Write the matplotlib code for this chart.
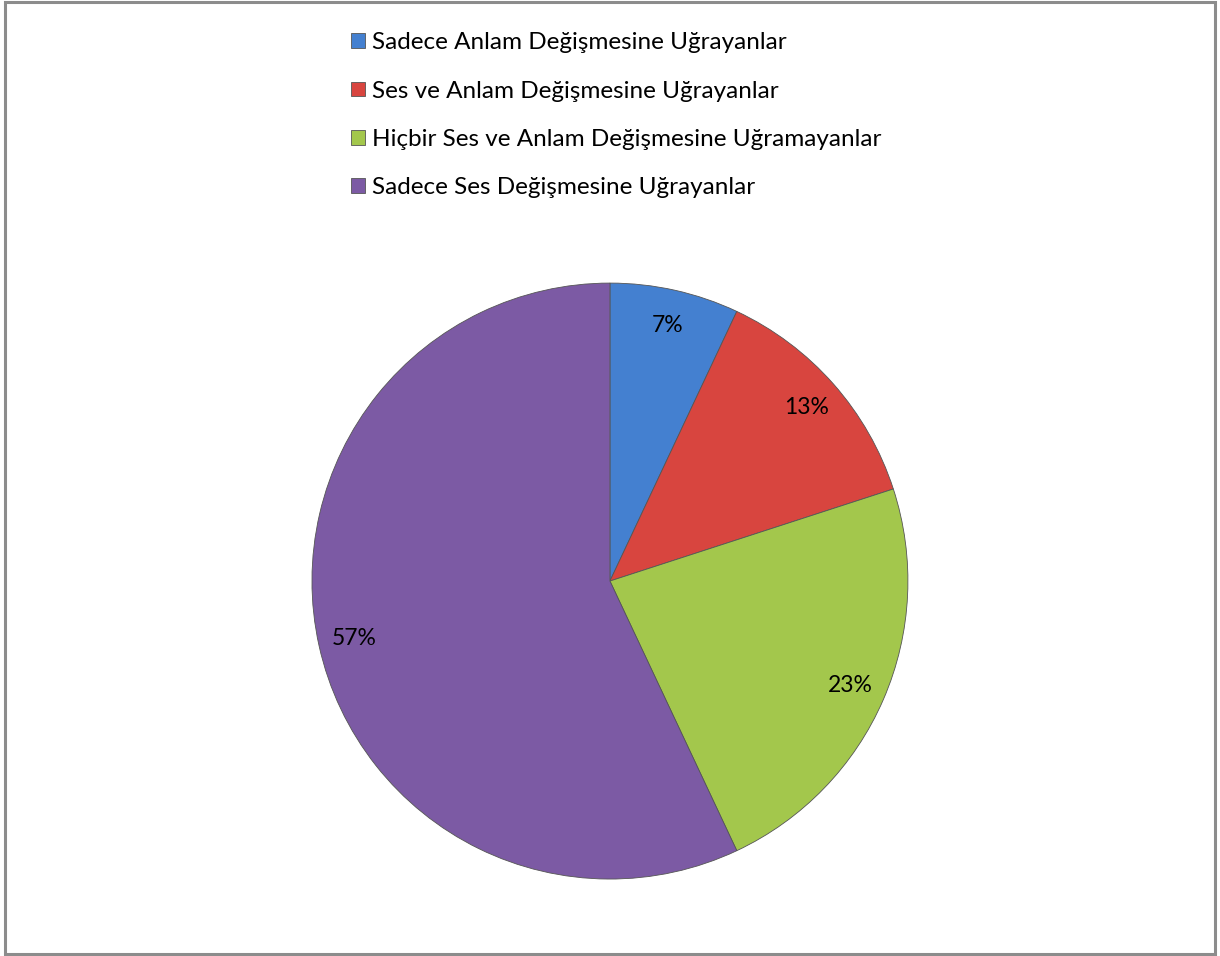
import matplotlib.pyplot as plt
from matplotlib.patches import Rectangle

plt.rcParams['font.family'] = ['Lato', 'DejaVu Sans']

categories = [
    "Sadece Anlam Değişmesine Uğrayanlar",
    "Ses ve Anlam Değişmesine Uğrayanlar",
    "Hiçbir Ses ve Anlam Değişmesine Uğramayanlar",
    "Sadece Ses Değişmesine Uğrayanlar",
]
values = [7, 13, 23, 57]
colors = ["#4480d0", "#d8453f", "#a3c74c", "#7c5aa4"]

fig = plt.figure(figsize=(12.2, 9.56), dpi=100)

# outer frame like the spreadsheet chart area
fig.patches.append(Rectangle((0.004, 0.002), 0.992, 0.996, transform=fig.transFigure,
                             fill=False, edgecolor="#8c8c8c", linewidth=2.2))

ax = fig.add_axes([0.2557, 0.0805, 0.4885, 0.6234])
wedges, texts, autotexts = ax.pie(
    values, colors=colors, startangle=90, counterclock=False,
    autopct=lambda p: f"{p:.0f}%", pctdistance=0.88,
    wedgeprops=dict(edgecolor="#555555", linewidth=0.6),
    textprops=dict(fontsize=16.5, color="black"))
ax.set_xlim(-1, 1)
ax.set_ylim(-1, 1)
ax.set_aspect("equal")

fig.legend(wedges, categories, loc="upper left", bbox_to_anchor=(0.27, 0.989),
           frameon=False, fontsize=17.5, handlelength=0.55, handleheight=0.55,
           handletextpad=0.3, labelspacing=1.12)

plt.savefig("out.png", dpi=100)
